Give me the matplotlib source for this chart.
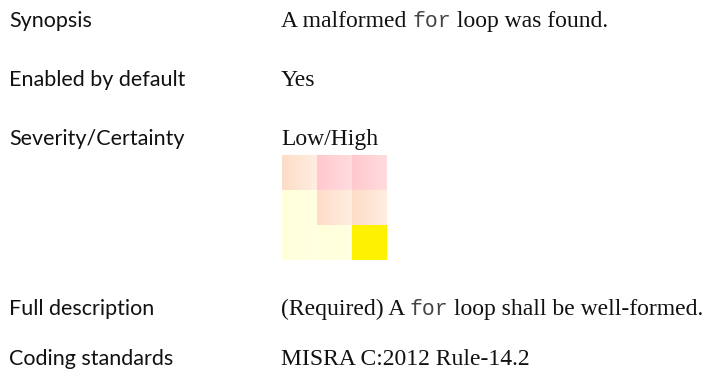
import matplotlib
matplotlib.use("Agg")
import matplotlib.pyplot as plt
from matplotlib.colors import to_rgb
import numpy as np

# ---- data ----
labels = ["Synopsis", "Enabled by default", "Severity/Certainty",
          "Full description", "Coding standards"]
synopsis = ["A malformed ", "for", " loop was found."]
enabled = "Yes"
severity = "Low/High"
full_desc = ["(Required) A ", "for", " loop shall be well-formed."]
coding = "MISRA C:2012 Rule-14.2"
# heatmap level codes: 0 pale yellow, 1 peach, 2 pink, 3 selected yellow
grid = [[1, 2, 2],
        [0, 1, 1],
        [0, 0, 3]]
level_left = ["#FFFFDA", "#FDDCC8", "#FFC8CE", "#FFF200"]
level_right = ["#FFFFE2", "#FFEEE0", "#FFDCDE", "#FFF200"]

W, H = 713, 373
fig = plt.figure(figsize=(W / 100, H / 100), dpi=100)
ax = fig.add_axes([0, 0, 1, 1])
ax.set_xlim(0, W)
ax.set_ylim(H, 0)
ax.axis("off")

FS_L = 15.5
FS_V = 17
sans = "Lato"
serif = "Liberation Serif"
mono = "Liberation Mono"

label_x = 9
value_x = 281
baselines = [27, 86, 145, 315, 365]

for lab, yb in zip(labels, baselines):
    ax.text(label_x, yb, lab, fontsize=FS_L, family=sans, va="baseline", ha="left", color="#111111")

fig.canvas.draw()
renderer = fig.canvas.get_renderer()


def mixed(parts, fams, x, y):
    for p, f in zip(parts, fams):
        is_mono = f == mono
        t = ax.text(x, y, p, fontsize=FS_V - 1.5 if is_mono else FS_V, family=f,
                    va="baseline", ha="left", color="#444444" if is_mono else "#111111")
        bb = t.get_window_extent(renderer=renderer)
        x += bb.width


mixed(synopsis, [serif, mono, serif], value_x, baselines[0])
ax.text(value_x, baselines[1], enabled, fontsize=FS_V, family=serif, va="baseline", color="#111111")
ax.text(value_x, baselines[2], severity, fontsize=FS_V, family=serif, va="baseline", color="#111111")
mixed(full_desc, [serif, mono, serif], value_x, baselines[3])
ax.text(value_x, baselines[4], coding, fontsize=FS_V, family=serif, va="baseline", color="#111111")

# heatmap with a soft horizontal gradient inside each cell
hx, hy, hs = 282, 155, 105
hax = fig.add_axes([hx / W, 1 - (hy + hs) / H, hs / W, hs / H])
g = np.array(grid)
nsub = 40
t = np.linspace(0, 1, nsub)
img = np.zeros((g.shape[0], g.shape[1] * nsub, 3))
for r in range(g.shape[0]):
    for c in range(g.shape[1]):
        a = np.array(to_rgb(level_left[g[r, c]]))
        b = np.array(to_rgb(level_right[g[r, c]]))
        img[r, c * nsub:(c + 1) * nsub] = a[None, :] * (1 - t[:, None]) + b[None, :] * t[:, None]
hax.imshow(img, aspect="auto", interpolation="nearest",
           extent=(-0.5, g.shape[1] - 0.5, g.shape[0] - 0.5, -0.5))
hax.axis("off")

fig.savefig("out.png", dpi=100)
